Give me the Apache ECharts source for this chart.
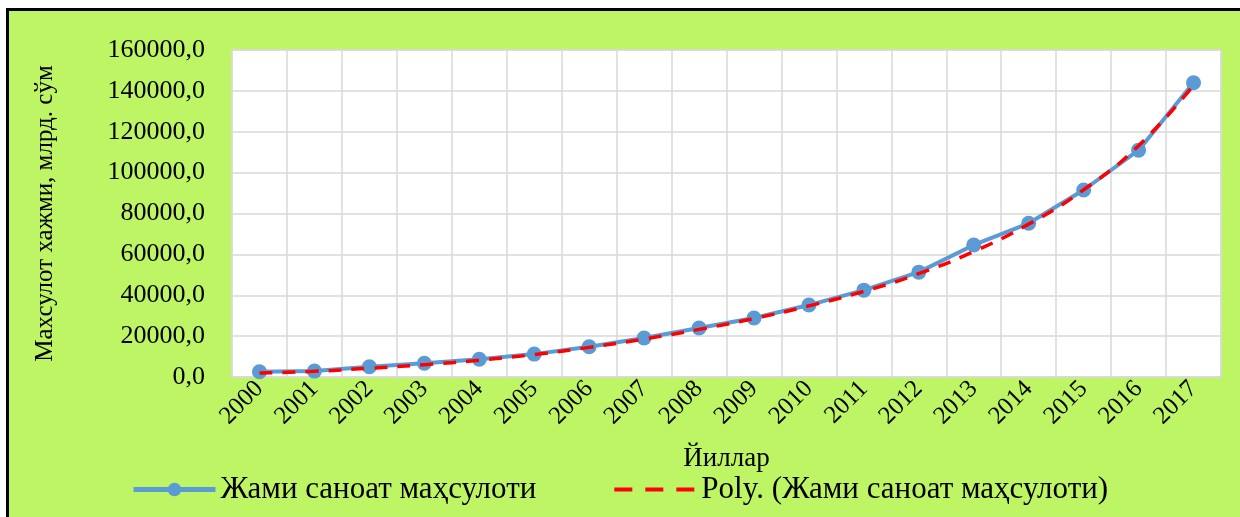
<!DOCTYPE html>
<html>
<head>
<meta charset="utf-8">
<script src="https://cdn.jsdelivr.net/npm/echarts@6/dist/echarts.min.js"></script>
<style>
  html, body { margin: 0; padding: 0; background: #ffffff; }
  .frame {
    position: absolute; left: 6px; top: 8px; right: 0; bottom: 0;
    border-left: 3px solid #000; border-top: 3px solid #000;
    background: #bef564;
  }
  #chart { position: absolute; left: -9px; top: -11px; width: 1240px; height: 517px; }
</style>
</head>
<body>
<div class="frame"><div id="chart"></div></div>
<script>
// years on the x axis
const years = ['2000', '2001', '2002', '2003', '2004', '2005', '2006', '2007', '2008',
  '2009', '2010', '2011', '2012', '2013', '2014', '2015', '2016', '2017'];
// total industrial output, bln. sum
const output = [2600, 2900, 5000, 6700, 8700, 11200, 14800, 19100, 24000,
  28900, 35200, 42500, 51300, 64600, 75200, 91500, 111000, 144000];
// polynomial trend as drawn in the picture
const trend = [2000, 2800, 4300, 6000, 8200, 11000, 14500, 18600, 23300,
  28600, 34800, 41900, 50600, 61400, 74800, 91600, 113200, 142800];
const yTicks = { min: 0, max: 160000, step: 20000 };

const font = '"Liberation Serif", "Times New Roman", serif';
const chart = echarts.init(document.getElementById('chart'));

chart.setOption({
  backgroundColor: 'transparent',
  animation: false,
  grid: {
    left: 232, right: 19, top: 50, bottom: 140,
    show: true, backgroundColor: '#ffffff', borderColor: '#d9d9d9', borderWidth: 1
  },
  legend: {
    bottom: 7,
    left: 126,
    itemWidth: 82,
    itemHeight: 17,
    itemGap: 76,
    textStyle: { fontFamily: font, fontSize: 31, color: '#000' },
    data: [
      { name: 'Жами саноат маҳсулоти', lineStyle: { width: 5 } },
      { name: 'Poly. (Жами саноат маҳсулоти)', itemStyle: { color: 'rgba(0,0,0,0)', borderWidth: 0 },
        lineStyle: { width: 4, type: [18, 13] } }
    ]
  },
  xAxis: {
    type: 'category',
    data: years,
    boundaryGap: true,
    name: 'Йиллар',
    nameLocation: 'middle',
    nameGap: 68,
    nameTextStyle: { fontFamily: font, fontSize: 27, color: '#000' },
    axisLine: { lineStyle: { color: '#d9d9d9', width: 1.5 } },
    axisTick: { show: false },
    axisLabel: {
      rotate: 45, margin: 8, interval: 0,
      fontFamily: font, fontSize: 25, color: '#000'
    },
    splitLine: { show: true, interval: 0, lineStyle: { color: '#d9d9d9', width: 1.5 } }
  },
  yAxis: {
    type: 'value',
    min: yTicks.min,
    max: yTicks.max,
    interval: yTicks.step,
    name: 'Махсулот хажми, млрд. сўм',
    nameLocation: 'middle',
    nameGap: 174,
    nameTextStyle: { fontFamily: font, fontSize: 25, color: '#000' },
    axisLine: { show: false },
    axisTick: { show: false },
    axisLabel: {
      margin: 27,
      fontFamily: font, fontSize: 26, color: '#000',
      formatter: v => v.toFixed(1).replace('.', ',')
    },
    splitLine: { lineStyle: { color: '#d9d9d9', width: 1.5 } }
  },
  series: [
    {
      name: 'Жами саноат маҳсулоти',
      type: 'line',
      data: output,
      color: '#5b9bd5',
      symbol: 'circle',
      symbolSize: 15,
      lineStyle: { width: 4, color: '#5b9bd5' },
      itemStyle: { color: '#5b9bd5' },
      z: 2
    },
    {
      name: 'Poly. (Жами саноат маҳсулоти)',
      type: 'line',
      data: trend,
      color: '#ff0000',
      smooth: true,
      symbol: 'none',
      lineStyle: { width: 3.5, color: '#ff0000', type: [13, 10] },
      z: 3
    }
  ]
});
</script>
</body>
</html>
